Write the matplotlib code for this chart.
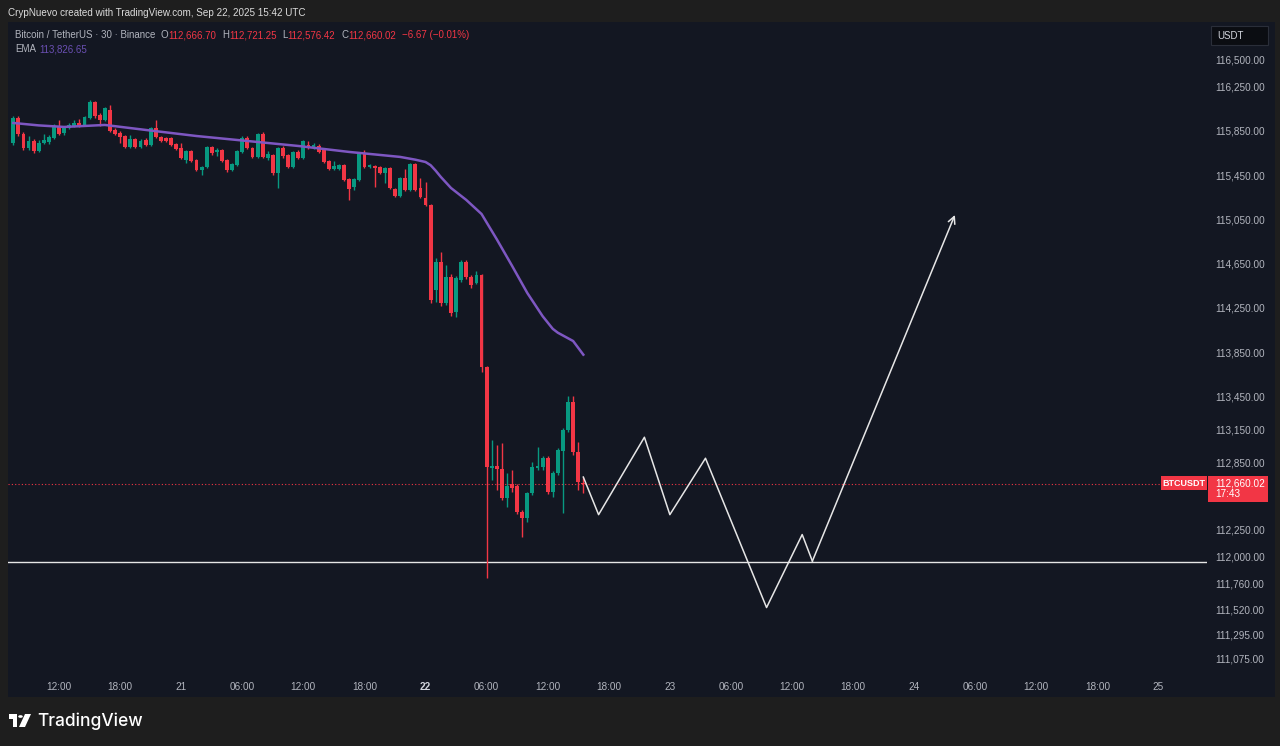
import numpy as np
import pandas as pd
import matplotlib
matplotlib.use("Agg")
import matplotlib.pyplot as plt
import matplotlib.dates as mdates
from matplotlib.patches import Rectangle, Polygon, Circle

# BTCUSDT 30m candles, Sep 20 07:30 -> Sep 22 15:30 UTC
opens = [115741, 115967, 115822, 115696, 115759, 115669, 115741, 115750, 115786, 115886,
         115831, 115877, 115895, 115922, 115904, 115967, 116111, 115994, 115949, 116039,
         115859, 115831, 115804, 115705, 115777, 115705, 115768, 115723, 115877, 115795,
         115786, 115786, 115732, 115696, 115587, 115669, 115587, 115497, 115524, 115705,
         115660, 115678, 115587, 115497, 115542, 115660, 115786, 115696, 115615, 115822,
         115606, 115633, 115470, 115696, 115633, 115524, 115660, 115606, 115723, 115696,
         115714, 115678, 115578, 115506, 115506, 115542, 115416, 115343, 115406, 115642,
         115524, 115533, 115524, 115470, 115515, 115325, 115262, 115425, 115316, 115551,
         115334, 115244, 115181, 114412, 114665, 114294, 114530, 114213, 114502, 114665,
         114530, 114475, 114548, 113716, 112802, 112820, 112793, 112531, 112658, 112640,
         112404, 112350, 112576, 112802, 112811, 112893, 112585, 112757, 112956, 113145,
         113398, 112947, 112666.70]
highs = [115985, 115985, 115840, 115804, 115777, 115768, 115822, 115813, 115913, 115949,
         115895, 115922, 115949, 115958, 115985, 116130, 116121, 116012, 116066, 116084,
         115877, 115849, 115813, 115813, 115786, 115777, 115786, 115886, 115949, 115804,
         115795, 115795, 115741, 115741, 115678, 115678, 115597, 115533, 115714, 115714,
         115696, 115687, 115597, 115560, 115678, 115804, 115804, 115705, 115831, 115840,
         115669, 115642, 115705, 115714, 115642, 115669, 115678, 115768, 115759, 115741,
         115732, 115687, 115587, 115578, 115551, 115551, 115425, 115425, 115651, 115678,
         115551, 115542, 115533, 115524, 115524, 115334, 115434, 115506, 115560, 115560,
         115425, 115388, 115190, 114701, 114755, 114638, 114557, 114539, 114683, 114683,
         114548, 114584, 114557, 113725, 113056, 113010, 113029, 112757, 112784, 112658,
         112422, 112585, 112857, 112992, 112911, 112911, 112775, 112983, 113163, 113453,
         113453, 113038, 112721.25]
lows = [115723, 115804, 115678, 115678, 115651, 115660, 115732, 115732, 115777, 115813,
        115813, 115868, 115886, 115886, 115895, 115958, 115967, 115895, 115940, 115840,
        115813, 115741, 115696, 115696, 115696, 115696, 115714, 115714, 115786, 115750,
        115750, 115714, 115678, 115597, 115560, 115569, 115488, 115452, 115515, 115633,
        115624, 115569, 115479, 115488, 115533, 115651, 115687, 115606, 115606, 115606,
        115587, 115452, 115334, 115606, 115515, 115515, 115597, 115597, 115687, 115687,
        115651, 115560, 115497, 115497, 115497, 115397, 115226, 115316, 115397, 115515,
        115515, 115343, 115461, 115379, 115325, 115253, 115253, 115307, 115307, 115307,
        115244, 115172, 114294, 114303, 114267, 114276, 114177, 114168, 114484, 114512,
        114430, 114466, 113670, 111808, 112694, 112603, 112513, 112450, 112585, 112386,
        112178, 112314, 112558, 112784, 112784, 112567, 112540, 112739, 112395, 113127,
        112920, 112603, 112576.42]
closes = [115967, 115822, 115696, 115759, 115669, 115741, 115768, 115795, 115886, 115822,
          115877, 115904, 115922, 115895, 115976, 116111, 115985, 115949, 116057, 115849,
          115822, 115795, 115705, 115777, 115705, 115759, 115723, 115877, 115795, 115759,
          115759, 115723, 115687, 115606, 115669, 115578, 115497, 115524, 115705, 115651,
          115678, 115578, 115497, 115551, 115669, 115786, 115696, 115615, 115822, 115615,
          115642, 115470, 115696, 115624, 115524, 115660, 115606, 115759, 115696, 115723,
          115660, 115569, 115506, 115533, 115542, 115406, 115325, 115416, 115642, 115524,
          115542, 115515, 115470, 115515, 115334, 115262, 115425, 115316, 115551, 115316,
          115253, 115181, 114321, 114665, 114294, 114530, 114204, 114521, 114665, 114530,
          114457, 114548, 113716, 112811, 112820, 112793, 112531, 112640, 112622, 112404,
          112350, 112576, 112811, 112820, 112893, 112585, 112757, 112965, 113145, 113398,
          112947, 112676, 112660.02]

# EMA at some candle indices
ema_idx = [0, 5, 10, 18, 26, 36, 46, 56, 66, 76, 79, 81, 82, 83, 84, 86, 89, 92, 95, 98,
           101, 104, 106, 107, 110, 112]
ema_val = [115922, 115900, 115886, 115904, 115859, 115804, 115759, 115714, 115660, 115615,
           115590, 115569, 115540, 115490, 115434, 115334, 115226, 115099, 114870, 114630,
           114384, 114175, 114060, 114025, 113950, 113826.65]

# drawn projection path
path_time = ["2025-09-22 15:30", "2025-09-22 17:00", "2025-09-22 21:30", "2025-09-23 00:00",
             "2025-09-23 03:30", "2025-09-23 09:30", "2025-09-23 13:00", "2025-09-23 14:00",
             "2025-09-24 04:00"]
path_price = [112720, 112380, 113080, 112380, 112890, 111540, 112200, 111960, 115090]

support = 111950
last_price = 112660.02

ytick_vals = [116500, 116250, 115850, 115450, 115050, 114650, 114250, 113850, 113450,
              113150, 112850, 112250, 112000, 111760, 111520, 111295, 111075]
xtick_labels = ["12:00", "18:00", "21", "06:00", "12:00", "18:00", "22", "06:00", "12:00",
                "18:00", "23", "06:00", "12:00", "18:00", "24", "06:00", "12:00", "18:00", "25"]

W, H = 1280, 746
OUTER = "#1e1e1e"
PANE = "#131722"
GREEN = "#089981"
RED = "#f23645"
TXT = "#b2b5be"

plt.rcParams['font.family'] = ['Liberation Sans', 'DejaVu Sans']

def fx(x):
    return x / W

def fy(y):
    return 1 - y / H

fig = plt.figure(figsize=(12.8, 7.46), dpi=100, facecolor=OUTER)
fig.patches.append(Rectangle((fx(8), fy(697)), fx(1275) - fx(8), fy(22) - fy(697),
                             transform=fig.transFigure, facecolor=PANE, edgecolor="none", zorder=-1))

ax = fig.add_axes((fx(8), fy(675), fx(1207) - fx(8), fy(22) - fy(675)))
ax.set_facecolor(PANE)
for s in ax.spines.values():
    s.set_visible(False)

times = pd.date_range("2025-09-20 07:30", periods=len(opens), freq="30min")
x = mdates.date2num(times)
o = np.array(opens); c = np.array(closes); hi = np.array(highs); lo = np.array(lows)
col = np.where(c >= o, GREEN, RED)
col[-1] = RED

ax.vlines(x, lo, hi, colors=col, linewidth=1, zorder=3)
body = np.maximum(np.abs(c - o), 9)
ax.bar(x, body, bottom=np.minimum(o, c), width=0.38 / 24, color=col, linewidth=0, zorder=4)

ax.plot(x[ema_idx], ema_val, color="#7e57c2", linewidth=1.8, zorder=5,
        solid_joinstyle="round")

px_t = mdates.date2num(pd.to_datetime(path_time))
ax.plot(px_t[:-1], path_price[:-1], color="#e6e6e6", linewidth=1.1, zorder=6)
ax.annotate("", xy=(px_t[-1], path_price[-1]), xytext=(px_t[-2], path_price[-2]),
            arrowprops=dict(arrowstyle="->,head_length=0.5,head_width=0.25",
                            color="#e6e6e6", lw=1.1, shrinkA=0, shrinkB=0), zorder=6)

ax.axhline(support, color="#e6e6e6", linewidth=1.0, zorder=2)
x0 = mdates.date2num(pd.Timestamp("2025-09-20 06:59"))
x1 = mdates.date2num(pd.Timestamp("2025-09-25 04:46"))
ax.hlines(last_price, x0, x1 - (x1 - x0) * 46 / 1199, colors=RED, linestyles=(0, (1, 2)),
          linewidth=0.8, zorder=2)

ax.set_xlim(x0, x1)
ax.set_ylim(110930, 116835)

ax.yaxis.tick_right()
ax.set_yticks(ytick_vals)
ax.set_yticklabels([f"{v:,.2f}" for v in ytick_vals])
ax.tick_params(axis="y", length=0, pad=6, labelsize=7.2, labelcolor=TXT)

xt = mdates.date2num(pd.date_range("2025-09-20 12:00", "2025-09-25 00:00", freq="6h"))
ax.set_xticks(xt)
ax.set_xticklabels(xtick_labels)
ax.tick_params(axis="x", length=0, pad=5, labelsize=7.2, labelcolor=TXT)
for lab in ax.get_xticklabels():
    if lab.get_text() == "22":
        lab.set_fontweight("bold")
        lab.set_color("#d1d4dc")

# price tags on the right
fig.patches.append(Rectangle((fx(1161), fy(490)), fx(1207) - fx(1161), fy(476) - fy(490),
                             transform=fig.transFigure, facecolor=RED, edgecolor="none", zorder=5))
fig.text(fx(1184), fy(483), "BTCUSDT", color="white", fontsize=6.5, fontweight="bold",
         ha="center", va="center", zorder=6)
fig.patches.append(Rectangle((fx(1208), fy(502)), fx(1268) - fx(1208), fy(476) - fy(502),
                             transform=fig.transFigure, facecolor=RED, edgecolor="none", zorder=5))
fig.text(fx(1215), fy(483), "112,660.02", color="white", fontsize=7.2, ha="left", va="center", zorder=6)
fig.text(fx(1215), fy(494), "17:43", color="white", fontsize=7.2, ha="left", va="center", zorder=6)

fig.patches.append(Rectangle((fx(1211), fy(45)), fx(1268) - fx(1211), fy(26) - fy(45),
                             transform=fig.transFigure, facecolor="#0b0d12", edgecolor="#2a2e39",
                             linewidth=0.8, zorder=5))
fig.text(fx(1217), fy(36), "USDT", color="#d1d4dc", fontsize=7, ha="left", va="center", zorder=6)

# header
fig.text(fx(8), fy(13), "CrypNuevo created with TradingView.com, Sep 22, 2025 15:42 UTC",
         color="#dcdcdc", fontsize=7.1, ha="left", va="center")

# legend line, pieces chained left to right
renderer = fig.canvas.get_renderer()
legend_bits = [("Bitcoin / TetherUS · 30 · Binance", TXT, 5), ("O", TXT, 0),
               ("112,666.70", RED, 6), ("H", TXT, 0), ("112,721.25", RED, 6),
               ("L", TXT, 0), ("112,576.42", RED, 6), ("C", TXT, 0),
               ("112,660.02", RED, 6), ("−6.67 (−0.01%)", RED, 0)]
lx = 15
for s, cc, gap in legend_bits:
    t = fig.text(fx(lx), fy(35), s, color=cc, fontsize=7, ha="left", va="center")
    lx = t.get_window_extent(renderer).x1 + gap
fig.text(fx(15), fy(49), "EMA", color=TXT, fontsize=7, ha="left", va="center")
fig.text(fx(39), fy(49), "113,826.65", color="#6a4fb3", fontsize=7, ha="left", va="center")

# TradingView logo
fig.patches.append(Rectangle((fx(9), fy(719)), fx(17) - fx(9), fy(714) - fy(719),
                             transform=fig.transFigure, facecolor="white", edgecolor="none"))
fig.patches.append(Rectangle((fx(13), fy(727)), fx(17) - fx(13), fy(714) - fy(727),
                             transform=fig.transFigure, facecolor="white", edgecolor="none"))
fig.patches.append(Circle((fx(20.5), fy(716.5)), 2.3 / W, transform=fig.transFigure,
                          facecolor="white", edgecolor="none"))
fig.patches.append(Polygon([(fx(25), fy(714)), (fx(31), fy(714)), (fx(25), fy(727)), (fx(19), fy(727))],
                           closed=True, transform=fig.transFigure, facecolor="white", edgecolor="none"))
fig.text(fx(37), fy(721), "TradingView", color="white", fontsize=12.5, fontweight="medium",
         family=["Inter", "DejaVu Sans"], ha="left", va="center")

fig.savefig("out.png", dpi=100, facecolor=OUTER)
